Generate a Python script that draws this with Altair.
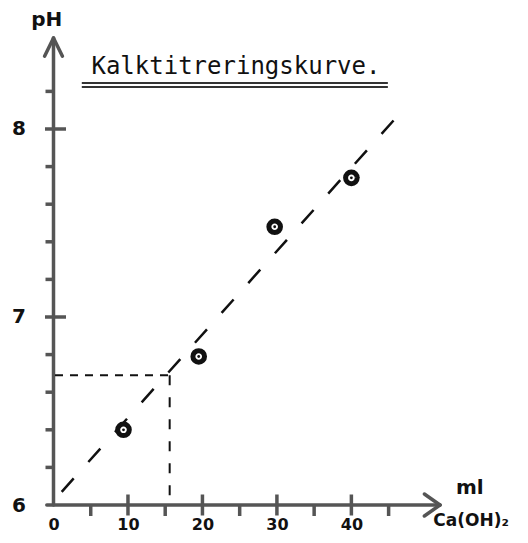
import altair as alt
import pandas as pd

# ---- values ----
ml = [9.4, 19.5, 29.7, 40.0]          # ml Ca(OH)2 added
ph = [6.40, 6.79, 7.48, 7.74]         # measured pH

fit_ml = [1.1, 46.9]                  # ends of the drawn dashed trend line
fit_ph = [6.07, 8.10]

eq_ml = 15.6                          # read-off point (dashed guides)
eq_ph = 6.69

x_major = [10, 20, 30, 40]
x_minor = [5, 15, 25, 35, 45]
y_major = [7, 8]
y_minor = [6.2, 6.4, 6.6, 6.8, 7.2, 7.4, 7.6, 7.8, 8.2]
x_labels = [0, 10, 20, 30, 40]
y_labels = [6, 7, 8]

title_text = "Kalktitreringskurve."

X_MIN, X_MAX = 0, 51.9
Y_MIN, Y_MAX = 6, 8.484

INK = "#111111"
AXC = "#555555"

xs = alt.Scale(domain=[X_MIN, X_MAX], nice=False, zero=False)
ys = alt.Scale(domain=[Y_MIN, Y_MAX], nice=False, zero=False)
xaxis = alt.Axis(values=x_labels, domain=False, ticks=False, grid=False,
                 labelFontSize=16, labelFont="DejaVu Sans", labelFontWeight="bold",
                 labelColor=INK, labelPadding=11, title=None, labelFlush=False)
yaxis = alt.Axis(values=y_labels, domain=False, ticks=False, grid=False,
                 labelFontSize=20, labelFont="DejaVu Sans", labelFontWeight="bold",
                 labelColor=INK, labelPadding=28, title=None)


def X(field=None, datum=None):
    if datum is not None:
        return alt.X(datum=datum, type="quantitative", scale=xs, axis=xaxis)
    return alt.X(field, type="quantitative", scale=xs, axis=xaxis)


def Y(field=None, datum=None):
    if datum is not None:
        return alt.Y(datum=datum, type="quantitative", scale=ys, axis=yaxis)
    return alt.Y(field, type="quantitative", scale=ys, axis=yaxis)


pts = pd.DataFrame({"ml": ml, "ph": ph})
fit = pd.DataFrame({"ml": fit_ml, "ph": fit_ph})

# axes drawn as segments in data space
ax_arm_x = 1.2
ax_arm_y = 0.0585
axes_df = pd.DataFrame([
    {"x": 0, "y": Y_MIN, "x2": 0, "y2": Y_MAX},
    {"x": -0.9, "y": Y_MIN, "x2": X_MAX, "y2": Y_MIN},
    {"x": 0, "y": Y_MAX, "x2": -ax_arm_x, "y2": Y_MAX - 0.097},
    {"x": 0, "y": Y_MAX, "x2": ax_arm_x, "y2": Y_MAX - 0.097},
    {"x": X_MAX, "y": Y_MIN, "x2": X_MAX - 2.1, "y2": Y_MIN + ax_arm_y},
    {"x": X_MAX, "y": Y_MIN, "x2": X_MAX - 2.1, "y2": Y_MIN - ax_arm_y},
])
axes_lines = alt.Chart(axes_df).mark_rule(color=AXC, strokeWidth=3.5, strokeCap="round").encode(
    x=X("x"), y=Y("y"), x2="x2", y2="y2")

xmaj = alt.Chart(pd.DataFrame({"v": x_major})).mark_tick(
    orient="vertical", size=21, thickness=3.5, color=AXC, opacity=1).encode(
    x=X("v"), y=Y(datum=Y_MIN))
xmin = alt.Chart(pd.DataFrame({"v": x_minor})).mark_tick(
    orient="vertical", size=11, thickness=3.5, color=AXC, opacity=1, yOffset=5.5).encode(
    x=X("v"), y=Y(datum=Y_MIN))
ymaj = alt.Chart(pd.DataFrame({"v": y_major})).mark_tick(
    orient="horizontal", size=21, thickness=3.5, color=AXC, opacity=1, xOffset=2).encode(
    y=Y("v"), x=X(datum=0))
ymin = alt.Chart(pd.DataFrame({"v": y_minor})).mark_tick(
    orient="horizontal", size=8, thickness=3.5, color=AXC, opacity=1, xOffset=-4).encode(
    y=Y("v"), x=X(datum=0))

fit_line = alt.Chart(fit).mark_line(color=INK, strokeWidth=2.5, strokeDash=[18, 22]).encode(
    x=X("ml"), y=Y("ph"))

hguide = alt.Chart(pd.DataFrame({"x": [0.2], "x2": [eq_ml], "y": [eq_ph]})).mark_rule(
    color=INK, strokeWidth=2, strokeDash=[8, 7]).encode(x=X("x"), x2="x2", y=Y("y"))
vguide = alt.Chart(pd.DataFrame({"x": [eq_ml], "y": [eq_ph], "y2": [Y_MIN]})).mark_rule(
    color=INK, strokeWidth=2, strokeDash=[10, 12]).encode(x=X("x"), y=Y("y"), y2="y2")

rings = alt.Chart(pts).mark_point(shape="circle", filled=False, size=135, strokeWidth=5,
                                  color=INK, opacity=1).encode(x=X("ml"), y=Y("ph"))
dots = alt.Chart(pts).mark_point(shape="circle", filled=True, size=8, color=INK,
                                 opacity=1).encode(x=X("ml"), y=Y("ph"))

title = alt.Chart(pd.DataFrame({"t": [title_text]})).mark_text(
    fontSize=24, font="DejaVu Sans Mono", color=INK, align="center", baseline="alphabetic").encode(
    x=X(datum=24.5), y=Y(datum=8.293), text="t")
ul = alt.Chart(pd.DataFrame({"x": [3.8, 3.8], "x2": [44.9, 44.9], "y": [8.245, 8.224]})).mark_rule(
    color="#333333", strokeWidth=2).encode(x=X("x"), x2="x2", y=Y("y"))

lab_ph = alt.Chart(pd.DataFrame({"t": ["pH"]})).mark_text(
    fontSize=20, font="DejaVu Sans", fontWeight="bold", color=INK, align="center").encode(
    x=X(datum=-0.9), y=Y(datum=8.58), text="t")
lab_ml = alt.Chart(pd.DataFrame({"t": ["ml"]})).mark_text(
    fontSize=20, font="DejaVu Sans", fontWeight="bold", color=INK, align="center").encode(
    x=X(datum=55.9), y=Y(datum=6.09), text="t")
lab_ca = alt.Chart(pd.DataFrame({"t": ["Ca(OH)₂"]})).mark_text(
    fontSize=17, font="DejaVu Sans", fontWeight="bold", color=INK, align="left").encode(
    x=X(datum=51.0), y=Y(datum=5.915), text="t")

chart = alt.layer(
    axes_lines, xmaj, xmin, ymaj, ymin, fit_line, hguide, vguide, rings, dots,
    title, ul, lab_ph, lab_ml, lab_ca
).properties(
    width=386.5, height=467,
    padding={"left": 45.5, "top": 30, "right": 78, "bottom": 30},
    autosize=alt.AutoSizeParams(type="none"),
).configure_view(stroke=None)

chart.save("out.html", embed_options={"renderer": "svg", "actions": False})
